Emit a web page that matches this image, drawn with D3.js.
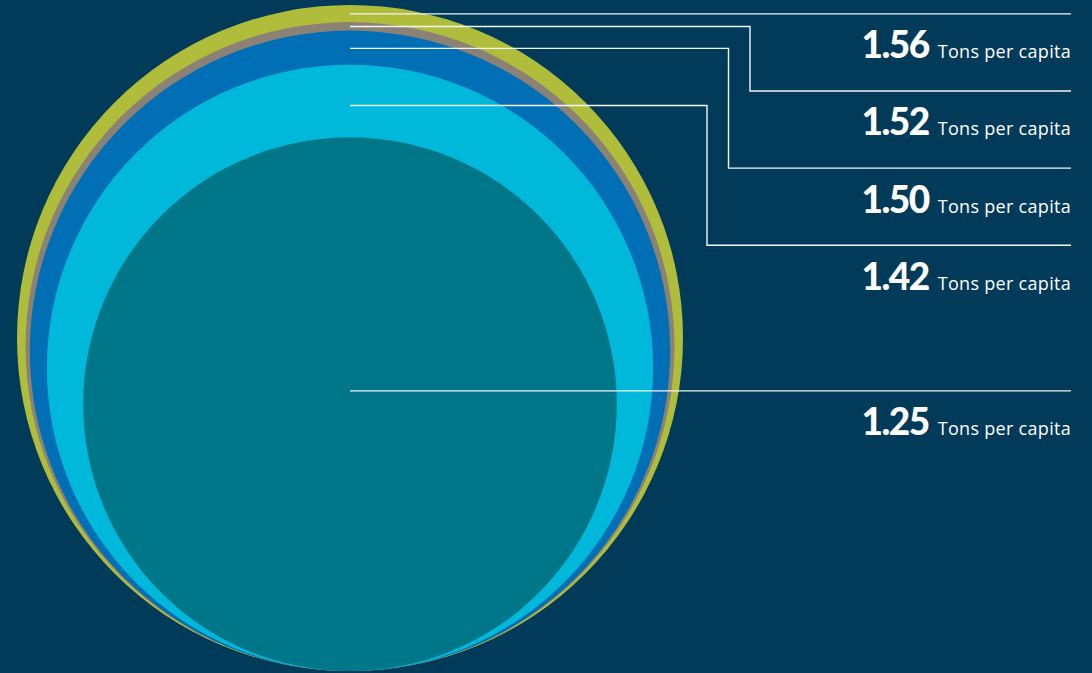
<!DOCTYPE html>
<html>
<head>
<meta charset="utf-8">
<script src="https://cdn.jsdelivr.net/npm/d3@7"></script>
<style>
  html, body { margin: 0; padding: 0; background: #023a59; }
  svg { display: block; }
  .val { font-family: Lato, "Open Sans", sans-serif; font-weight: 900; fill: #ffffff; }
  .unit { font-family: "Open Sans", Lato, sans-serif; font-weight: 400; fill: #ffffff; }
</style>
</head>
<body>
<svg id="chart" width="1092" height="673"></svg>
<script>
// Per-capita consumption, largest to smallest
const values = [1.56, 1.52, 1.50, 1.42, 1.25];
const colors = ["#afbd3b", "#8c8175", "#006fb6", "#00b9da", "#007789"];
const unitLabel = "Tons per capita";

const W = 1092, H = 673;
const svg = d3.select("#chart");

// radius grows linearly with the value; circles share a bottom tangent point
const r = d3.scaleLinear().domain([0, d3.max(values)]).range([0, 333]);
const cx = 350, baseY = 671;
const fmt = d3.format(".2f");

const circles = values.map((v, i) => ({
  v, color: colors[i], r: r(v), cy: baseY - r(v), top: baseY - 2 * r(v)
}));

svg.selectAll("circle.ring")
  .data(circles)
  .join("circle")
  .attr("class", "ring")
  .attr("cx", cx)
  .attr("cy", d => d.cy)
  .attr("r", d => d.r)
  .attr("fill", d => d.color);

// leader anchor: inside each visible band, innermost one near the centre
circles.forEach((d, i) => {
  if (i < circles.length - 1) {
    const next = circles[i + 1];
    d.anchorY = d.top + (next.top - d.top) * 0.52 + (i === 3 ? 3 : 0);
  } else {
    d.anchorY = d.top + d.r * 0.95;
  }
});

// label rows on the right
const rightX = 1071;
const rowStep = 77.1;
circles.forEach((d, i) => {
  if (i === 0) d.rowY = d.anchorY;
  else if (i === circles.length - 1) d.rowY = d.anchorY;
  else d.rowY = circles[0].anchorY + rowStep * i;
  d.elbowX = 771.5 - 21.5 * i;
});

const line = d3.line();
svg.selectAll("path.leader")
  .data(circles)
  .join("path")
  .attr("class", "leader")
  .attr("fill", "none")
  .attr("stroke", "#f2f5f8")
  .attr("stroke-width", 1.4)
  .attr("d", d => {
    if (Math.abs(d.rowY - d.anchorY) < 0.5) {
      return line([[cx, d.anchorY], [rightX, d.anchorY]]);
    }
    return line([[cx, d.anchorY], [d.elbowX, d.anchorY], [d.elbowX, d.rowY], [rightX, d.rowY]]);
  });

// value + unit text
const labels = svg.selectAll("g.label")
  .data(circles)
  .join("g")
  .attr("class", "label");

labels.each(function (d) {
  const g = d3.select(this);
  const base = d.rowY + 44.5;
  const unit = g.append("text")
    .attr("class", "unit")
    .attr("x", rightX)
    .attr("y", base)
    .attr("text-anchor", "end")
    .attr("font-size", 18)
    .attr("letter-spacing", "0.3px")
    .text(unitLabel);
  const uw = unit.node().getComputedTextLength();
  g.append("text")
    .attr("class", "val")
    .attr("x", rightX - uw - 9)
    .attr("y", base)
    .attr("text-anchor", "end")
    .attr("font-size", 37)
    .attr("letter-spacing", "-1.5px")
    .text(fmt(d.v));
});
</script>
</body>
</html>
